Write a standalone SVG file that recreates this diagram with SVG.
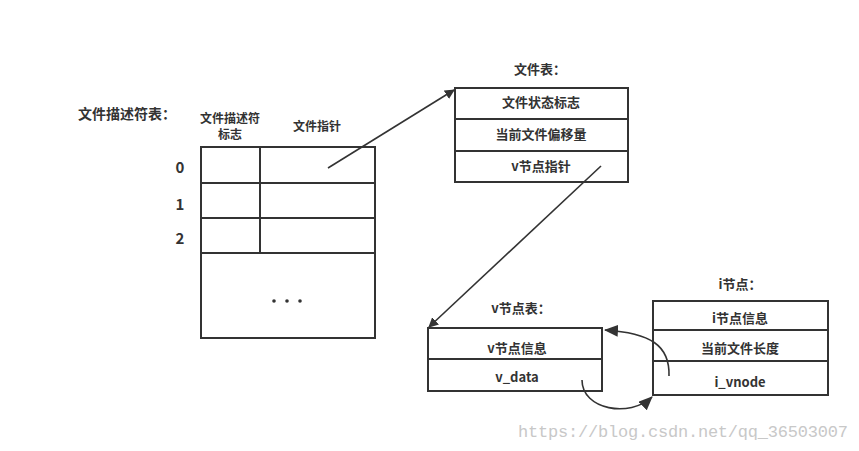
<svg xmlns="http://www.w3.org/2000/svg" width="859" height="451" viewBox="0 0 859 451">
<style>
text{font-family:"Noto Sans CJK SC","Liberation Sans",sans-serif;font-weight:bold;fill:#333;font-size:13px;text-anchor:middle}
.box{fill:#fff;stroke:#333;stroke-width:2}
.ln{stroke:#333;stroke-width:2}
.num{font-size:15px}
.conn{fill:none;stroke:#333;stroke-width:1.6}
.wm{font-family:"Liberation Mono",monospace;font-weight:normal;fill:#c8c8c8;font-size:17px;text-anchor:start}
</style>
<defs>
<marker id="ah" markerWidth="10" markerHeight="10" refX="9" refY="5" orient="auto" markerUnits="userSpaceOnUse" viewBox="0 0 10 10">
<path d="M0,0 L10,5 L0,10 Z" fill="#333"/>
</marker>
<marker id="ah2" markerWidth="14" markerHeight="12" refX="13" refY="6" orient="auto" markerUnits="userSpaceOnUse" viewBox="0 0 14 12">
<path d="M0,0 L14,6 L0,12 Z" fill="#333"/>
</marker>
</defs>
<rect width="859" height="451" fill="#fff"/>
<g id="fd-table">
<text x="127" y="119" style="font-size:14px">文件描述符表：</text>
<text x="230" y="123" style="font-size:12px">文件描述符</text>
<text x="230" y="139" style="font-size:12px">标志</text>
<text x="317" y="131" style="font-size:12px">文件指针</text>
<rect class="box" x="201" y="147" width="174" height="191"/>
<line class="ln" x1="201" y1="183" x2="375" y2="183"/>
<line class="ln" x1="201" y1="218" x2="375" y2="218"/>
<line class="ln" x1="201" y1="253" x2="375" y2="253"/>
<line class="ln" x1="260" y1="147" x2="260" y2="253"/>
<text class="num" x="180" y="173">0</text>
<text class="num" x="180" y="210">1</text>
<text class="num" x="180" y="244">2</text>
<circle cx="274" cy="301" r="1.8" fill="#333"/>
<circle cx="287" cy="301" r="1.8" fill="#333"/>
<circle cx="300" cy="301" r="1.8" fill="#333"/>
</g>
<g id="file-table">
<text x="540" y="74">文件表：</text>
<rect class="box" x="455" y="88" width="173" height="94"/>
<line class="ln" x1="455" y1="119" x2="628" y2="119"/>
<line class="ln" x1="455" y1="151" x2="628" y2="151"/>
<text x="541" y="107">文件状态标志</text>
<text x="541" y="139">当前文件偏移量</text>
<text x="541" y="171">v节点指针</text>
</g>
<g id="vnode-table">
<text x="521" y="313">v节点表：</text>
<rect class="box" x="428" y="328" width="174" height="63"/>
<line class="ln" x1="428" y1="359" x2="602" y2="359"/>
<text x="517" y="353">v节点信息</text>
<text x="517" y="382">v_data</text>
</g>
<g id="inode-table">
<text x="740" y="289">i节点：</text>
<rect class="box" x="653" y="301" width="175" height="94"/>
<line class="ln" x1="653" y1="330" x2="828" y2="330"/>
<line class="ln" x1="653" y1="361" x2="828" y2="361"/>
<text x="740" y="323">i节点信息</text>
<text x="740" y="353">当前文件长度</text>
<text x="740" y="387">i_vnode</text>
</g>
<g id="connectors">
<line class="conn" x1="328" y1="168" x2="454" y2="90" marker-end="url(#ah)"/>
<line class="conn" x1="601" y1="166" x2="429" y2="327" marker-end="url(#ah)"/>
<path class="conn" d="M669,376 C670,345 650,333 605,330" marker-end="url(#ah2)"/>
<path class="conn" d="M582,380 C582,410 630,418 652,397" marker-end="url(#ah2)"/>
</g>
<text class="wm" x="518" y="437" textLength="330">https://blog.csdn.net/qq_36503007</text>
</svg>
